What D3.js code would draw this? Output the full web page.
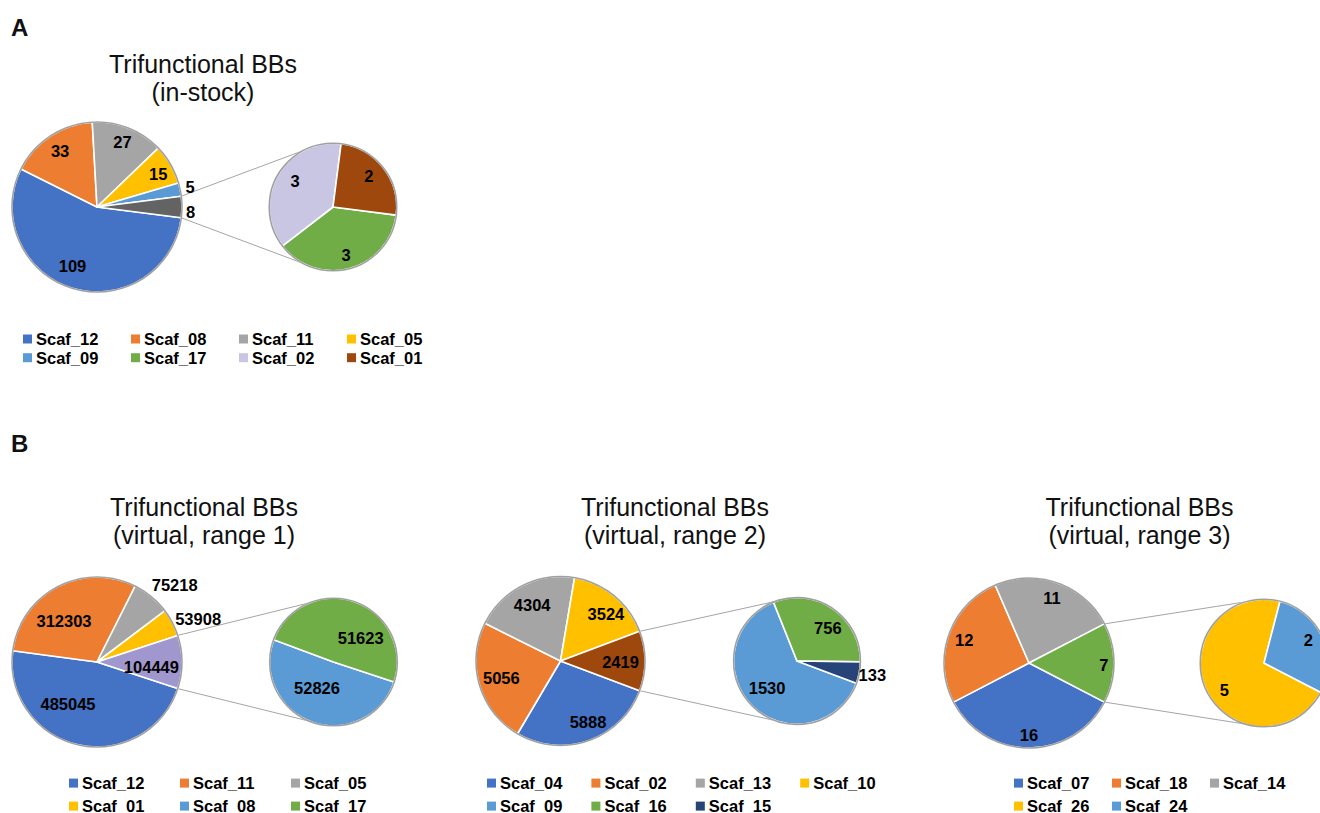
<!DOCTYPE html>
<html>
<head>
<meta charset="utf-8">
<script src="https://cdn.jsdelivr.net/npm/d3@7"></script>
<style>
  html, body { margin: 0; padding: 0; background: #fff; overflow: hidden; }
  svg { display: block; font-family: "Liberation Sans", Arial, Helvetica, sans-serif; }
</style>
</head>
<body>
<svg id="chart" width="1320" height="813"></svg>
<script>
// ---- Data: trifunctional building blocks per scaffold ----
// The last `...SecondaryCount` entries of each list are split out into the
// secondary pie; their sum forms the combined slice of the primary pie.

const inStockCategories = ["Scaf_12", "Scaf_08", "Scaf_11", "Scaf_05", "Scaf_09", "Scaf_17", "Scaf_02", "Scaf_01"];
const inStockValues     = [109, 33, 27, 15, 5, 3, 3, 2];
const inStockSecondaryCount = 3;

const range1Categories = ["Scaf_12", "Scaf_11", "Scaf_05", "Scaf_01", "Scaf_08", "Scaf_17"];
const range1Values     = [485045, 312303, 75218, 53908, 52826, 51623];
const range1SecondaryCount = 2;

const range2Categories = ["Scaf_04", "Scaf_02", "Scaf_13", "Scaf_10", "Scaf_09", "Scaf_16", "Scaf_15"];
const range2Values     = [5888, 5056, 4304, 3524, 1530, 756, 133];
const range2SecondaryCount = 3;

const range3Categories = ["Scaf_07", "Scaf_18", "Scaf_14", "Scaf_26", "Scaf_24"];
const range3Values     = [16, 12, 11, 5, 2];
const range3SecondaryCount = 2;

const panelLetters = ["A", "B"];
const titles = [
  ["Trifunctional BBs", "(in-stock)"],
  ["Trifunctional BBs", "(virtual, range 1)"],
  ["Trifunctional BBs", "(virtual, range 2)"],
  ["Trifunctional BBs", "(virtual, range 3)"]
];

// ---- Palette ----
const C = {
  blue: "#4472C4", orange: "#ED7D31", gray: "#A5A5A5", gold: "#FFC000",
  lightBlue: "#5B9BD5", green: "#70AD47", navy: "#264478", brown: "#9E480E",
  darkGray: "#636363", lavender: "#C9C6E3", purple: "#A097CE"
};

// ---- Layout / styling per chart ----
// label placement: [radius fraction, dx, dy] for each slice
const charts = [
  {
    cats: inStockCategories, vals: inStockValues, nSec: inStockSecondaryCount, title: titles[0],
    colors: [C.blue, C.orange, C.gray, C.gold, C.lightBlue, C.green, C.lavender, C.brown],
    otherColor: C.darkGray,
    cx: 97, cy: 207, r: 85, secDx: 236,
    titleX: 203, titleY: 72.5,
    mainLabels: [[0.75, -6, -2], [0.79, 0, 0], [0.82, 0, 0], [0.82, 1, 2], [1.12, 0, 0], [1.1, 0, 5]],
    secLabels: [[0.78, 0, 0], [0.72, 2, -3], [0.75, -2, -2]],
    legend: { x: 23, y: 339, colW: 108, rowH: 18.7, perRow: 4 }
  },
  {
    cats: range1Categories, vals: range1Values, nSec: range1SecondaryCount, title: titles[1],
    colors: [C.blue, C.orange, C.gray, C.gold, C.lightBlue, C.green],
    otherColor: C.purple,
    cx: 97, cy: 662, r: 85, secDx: 236.5,
    titleX: 204, titleY: 515.5,
    mainLabels: [[0.6, -17.6, -7.7], [0.61, -8.8, 4.9], [1.28, 8, 6.7], [1.29, 4, 7.8], [0.64, 0, 5]],
    secLabels: [[0.47, -6.6, -2.3], [0.58, 15, 11]],
    legend: { x: 69, y: 783.1, colW: 111, rowH: 23, perRow: 3 }
  },
  {
    cats: range2Categories, vals: range2Values, nSec: range2SecondaryCount, title: titles[2],
    colors: [C.blue, C.orange, C.gray, C.gold, C.lightBlue, C.green, C.navy],
    otherColor: C.brown,
    cx: 560.5, cy: 661, r: 84.5, secDx: 236.5,
    titleX: 675, titleY: 515.5,
    mainLabels: [[0.8, 5, -3], [0.73, 0, 0], [0.74, 0, 0], [0.77, 4, 3], [0.71, 0, 1]],
    secLabels: [[0.63, -2, -1], [0.72, 5, 4.5], [1.21, 0, 0]],
    legend: { x: 487, y: 783.1, colW: 104.4, rowH: 23, perRow: 4 }
  },
  {
    cats: range3Categories, vals: range3Values, nSec: range3SecondaryCount, title: titles[3],
    colors: [C.blue, C.orange, C.gray, C.gold, C.lightBlue],
    otherColor: C.green,
    cx: 1029, cy: 663, r: 85, secDx: 235,
    titleX: 1139.5, titleY: 515.5,
    mainLabels: [[0.85, 0, 0], [0.81, 0, 0], [0.81, 0, 0], [0.88, 0, 2]],
    secLabels: [[0.75, 4, 8], [0.78, -1, -3]],
    legend: { x: 1014, y: 783.1, colW: 98, rowH: 23, perRow: 3 }
  }
];

const svg = d3.select("#chart");
const fmt = d3.format("d");

// Panel letters
svg.selectAll("text.panel")
  .data(panelLetters)
  .join("text")
  .attr("class", "panel")
  .attr("x", 11)
  .attr("y", (d, i) => i === 0 ? 35.5 : 451.5)
  .attr("font-size", 24)
  .attr("font-weight", "bold")
  .attr("fill", "#111")
  .text(d => d);

const pt = (cx, cy, r, a) => [cx + r * Math.sin(a), cy - r * Math.cos(a)];

function drawPieOfPie(cfg) {
  const g = svg.append("g");
  const n = cfg.vals.length;
  const mainVals = cfg.vals.slice(0, n - cfg.nSec);
  const secVals = cfg.vals.slice(n - cfg.nSec);
  const other = d3.sum(secVals);
  const total = d3.sum(mainVals) + other;

  // combined slice is centred on 3 o'clock; both pies start at its lower edge
  const start = Math.PI / 2 + Math.PI * other / total;

  const mainData = mainVals.map((v, i) => ({ v, color: cfg.colors[i] }))
    .concat([{ v: other, color: cfg.otherColor }]);
  const secData = secVals.map((v, i) => ({ v, color: cfg.colors[n - cfg.nSec + i] }));

  const pie = d3.pie().sort(null).value(d => d.v).startAngle(start).endAngle(start + 2 * Math.PI);
  const r2 = cfg.r * 0.75;
  const sx = cfg.cx + cfg.secDx, sy = cfg.cy;

  // Connector lines from the combined slice to the secondary pie
  const otherArc = pie(mainData)[mainData.length - 1];
  const edgeTop = pt(cfg.cx, cfg.cy, cfg.r, otherArc.startAngle);
  const edgeBot = pt(cfg.cx, cfg.cy, cfg.r, otherArc.endAngle);
  const shift = 7 * Math.PI / 180;
  function target(P, upper) {
    const dx = P[0] - sx, dy = P[1] - sy;
    const d = Math.hypot(dx, dy);
    const phi = Math.atan2(dx, -dy);
    const beta = Math.acos(r2 / d);
    const a = upper ? phi + beta - shift : phi - beta + shift;
    return pt(sx, sy, r2, a);
  }
  [[edgeTop, target(edgeTop, true)], [edgeBot, target(edgeBot, false)]].forEach(([p, q]) => {
    g.append("line")
      .attr("x1", p[0]).attr("y1", p[1]).attr("x2", q[0]).attr("y2", q[1])
      .attr("stroke", "#A5A5A5").attr("stroke-width", 1);
  });

  function drawPie(data, cx, cy, r, labels) {
    const arcs = pie(data);
    const arc = d3.arc().innerRadius(0).outerRadius(r);
    const pg = g.append("g").attr("transform", `translate(${cx},${cy})`);
    pg.selectAll("path")
      .data(arcs)
      .join("path")
      .attr("d", arc)
      .attr("fill", d => d.data.color)
      .attr("stroke", "#fff")
      .attr("stroke-width", 1.6)
      .attr("stroke-linejoin", "round");
    pg.append("circle")
      .attr("r", r)
      .attr("fill", "none")
      .attr("stroke", "#A0A0A0")
      .attr("stroke-width", 1.6);
    pg.selectAll("text")
      .data(arcs)
      .join("text")
      .attr("x", (d, i) => {
        const m = (d.startAngle + d.endAngle) / 2;
        return Math.sin(m) * r * labels[i][0] + labels[i][1];
      })
      .attr("y", (d, i) => {
        const m = (d.startAngle + d.endAngle) / 2;
        return -Math.cos(m) * r * labels[i][0] + labels[i][2];
      })
      .attr("dy", "0.36em")
      .attr("text-anchor", "middle")
      .attr("font-size", 16.5)
      .attr("font-weight", "bold")
      .attr("fill", "#000")
      .text(d => fmt(d.data.v));
  }

  drawPie(mainData, cfg.cx, cfg.cy, cfg.r, cfg.mainLabels);
  drawPie(secData, sx, sy, r2, cfg.secLabels);

  // Title
  const t = g.append("text")
    .attr("text-anchor", "middle")
    .attr("font-size", 25)
    .attr("fill", "#111");
  cfg.title.forEach((line, i) => {
    t.append("tspan").attr("x", cfg.titleX).attr("y", cfg.titleY + i * 28).text(line);
  });

  // Legend
  const L = cfg.legend;
  const items = g.selectAll("g.legend-item")
    .data(cfg.cats)
    .join("g")
    .attr("class", "legend-item")
    .attr("transform", (d, i) =>
      `translate(${L.x + (i % L.perRow) * L.colW},${L.y + Math.floor(i / L.perRow) * L.rowH})`);
  items.append("rect")
    .attr("x", 0).attr("y", -4.5).attr("width", 9).attr("height", 9)
    .attr("fill", (d, i) => cfg.colors[i]);
  items.append("text")
    .attr("x", 13).attr("y", 0).attr("dy", "0.36em")
    .attr("font-size", 16.5)
    .attr("font-weight", "bold")
    .attr("fill", "#000")
    .text(d => d);
}

charts.forEach(drawPieOfPie);
</script>
</body>
</html>
